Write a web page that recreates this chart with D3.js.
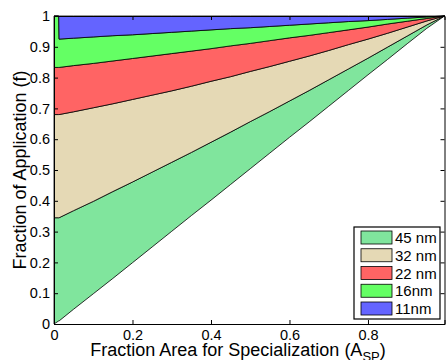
<!DOCTYPE html>
<html>
<head>
<meta charset="utf-8">
<script src="https://d3js.org/d3.v7.min.js"></script>
<style>
  body { margin: 0; background: #fff; }
  text { font-family: "Liberation Sans", Arial, sans-serif; }
</style>
</head>
<body>
<script>
// fraction of area given to specialization (x)
var xs = [0, 0.012, 0.013, 0.05, 0.1, 0.15, 0.2, 0.25, 0.3, 0.35, 0.4, 0.45, 0.5,
          0.55, 0.6, 0.65, 0.7, 0.75, 0.8, 0.85, 0.9, 0.95, 0.995];

// cumulative upper boundary of each layer (fraction of application)
var base  = [0, 0.010, 0.010, 0.048, 0.098, 0.148, 0.199, 0.250, 0.301, 0.352, 0.402, 0.453, 0.504,
             0.555, 0.606, 0.656, 0.707, 0.758, 0.809, 0.859, 0.910, 0.960, 1.0];
var top45 = [0.345, 0.345, 0.345, 0.368, 0.398, 0.430, 0.461, 0.493, 0.525, 0.557, 0.590, 0.623, 0.657,
             0.690, 0.724, 0.758, 0.793, 0.828, 0.863, 0.899, 0.935, 0.971, 1.0];
var top32 = [0.680, 0.680, 0.680, 0.689, 0.702, 0.715, 0.729, 0.743, 0.757, 0.772, 0.788, 0.803, 0.820,
             0.836, 0.853, 0.870, 0.888, 0.907, 0.925, 0.944, 0.964, 0.984, 1.0];
var top22 = [0.833, 0.833, 0.833, 0.839, 0.846, 0.854, 0.862, 0.870, 0.878, 0.886, 0.894, 0.903, 0.911,
             0.920, 0.929, 0.937, 0.946, 0.955, 0.964, 0.974, 0.983, 0.992, 1.0];
var top16 = [1.0, 1.0, 0.925, 0.928, 0.932, 0.936, 0.939, 0.943, 0.947, 0.951, 0.955, 0.959, 0.962,
             0.966, 0.970, 0.974, 0.978, 0.982, 0.985, 0.989, 0.993, 0.997, 1.0];
var top11 = [1, 1, 1, 1, 1, 1, 1, 1, 1, 1, 1, 1, 1, 1, 1, 1, 1, 1, 1, 1, 1, 1, 1];

var labels = ["45 nm", "32 nm", "22 nm", "16nm", "11nm"];
var colors = ["#80e59d", "#e5d9b5", "#ff6464", "#64ff64", "#6464ff"];

var xTicks = [0, 0.2, 0.4, 0.6, 0.8];
var yTicks = [0, 0.1, 0.2, 0.3, 0.4, 0.5, 0.6, 0.7, 0.8, 0.9, 1];

var width = 448, height = 360;
var box = {left: 54, right: 444.5, top: 16, bottom: 324};

var x = d3.scaleLinear().domain([0, 0.995]).range([box.left, box.right]);
var y = d3.scaleLinear().domain([0, 1]).range([box.bottom, box.top]);

var svg = d3.select("body").append("svg")
    .attr("width", width)
    .attr("height", height);

// layers: bottom/top pairs
var bounds = [base, top45, top32, top22, top16, top11];
var layers = labels.map(function(l, i) {
  return xs.map(function(v, j) { return {x: v, y0: bounds[i][j], y1: bounds[i + 1][j]}; });
});

var area = d3.area()
    .x(function(d) { return x(d.x); })
    .y0(function(d) { return y(d.y0); })
    .y1(function(d) { return y(d.y1); });

svg.selectAll(".layer")
    .data(layers)
  .enter().append("path")
    .attr("class", "layer")
    .attr("d", area)
    .attr("fill", function(d, i) { return colors[i]; })
    .attr("stroke", "#000")
    .attr("stroke-width", 0.8)
    .attr("stroke-linejoin", "round");

// axes (ticks inward, box)
var axB = svg.append("g").attr("transform", "translate(0," + box.bottom + ")")
    .call(d3.axisBottom(x).tickValues(xTicks).tickSize(-4).tickPadding(6)
      .tickFormat(function(d) { return d === 0 ? "0" : d3.format(".1f")(d); }));
var axT = svg.append("g").attr("transform", "translate(0," + box.top + ")")
    .call(d3.axisTop(x).tickValues(xTicks).tickSize(-4).tickFormat(""));
var axL = svg.append("g").attr("transform", "translate(" + box.left + ",0)")
    .call(d3.axisLeft(y).tickValues(yTicks).tickSize(-4).tickPadding(4)
      .tickFormat(function(d) { return d === 0 ? "0" : d === 1 ? "1" : d3.format(".1f")(d); }));
var axR = svg.append("g").attr("transform", "translate(" + box.right + ",0)")
    .call(d3.axisRight(y).tickValues(yTicks).tickSize(-4).tickFormat(""));

[axB, axT, axL, axR].forEach(function(a) {
  a.select(".domain").attr("stroke", "#000").attr("stroke-width", 1);
  a.selectAll(".tick line").attr("stroke", "#000");
  a.selectAll("text").attr("font-size", 14.5).attr("fill", "#000")
    .style("font-family", "Liberation Sans, Arial, sans-serif");
});

// axis titles
var xl = svg.append("text")
    .attr("x", 238)
    .attr("y", 355.5)
    .attr("text-anchor", "middle")
    .attr("font-size", 18);
xl.append("tspan").text("Fraction Area for Specialization (A");
xl.append("tspan").attr("font-size", 13).attr("dy", 5).text("SP");
xl.append("tspan").attr("dy", -5).text(")");

svg.append("text")
    .attr("transform", "translate(25.5," + ((box.top + box.bottom) / 2) + ") rotate(-90)")
    .attr("text-anchor", "middle")
    .attr("font-size", 18)
    .text("Fraction of Application (f)");

// legend
var lg = svg.append("g").attr("transform", "translate(354,227)");
lg.append("rect")
    .attr("width", 86).attr("height", 92)
    .attr("fill", "#fff").attr("stroke", "#000").attr("stroke-width", 1.2);
labels.forEach(function(l, i) {
  lg.append("rect")
    .attr("x", 7).attr("y", 4 + i * 17.75)
    .attr("width", 31).attr("height", 13)
    .attr("fill", colors[i]).attr("stroke", "#000").attr("stroke-width", 0.8);
  lg.append("text")
    .attr("x", 41).attr("y", 16 + i * 17.75)
    .attr("font-size", 15)
    .text(l);
});
</script>
</body>
</html>
